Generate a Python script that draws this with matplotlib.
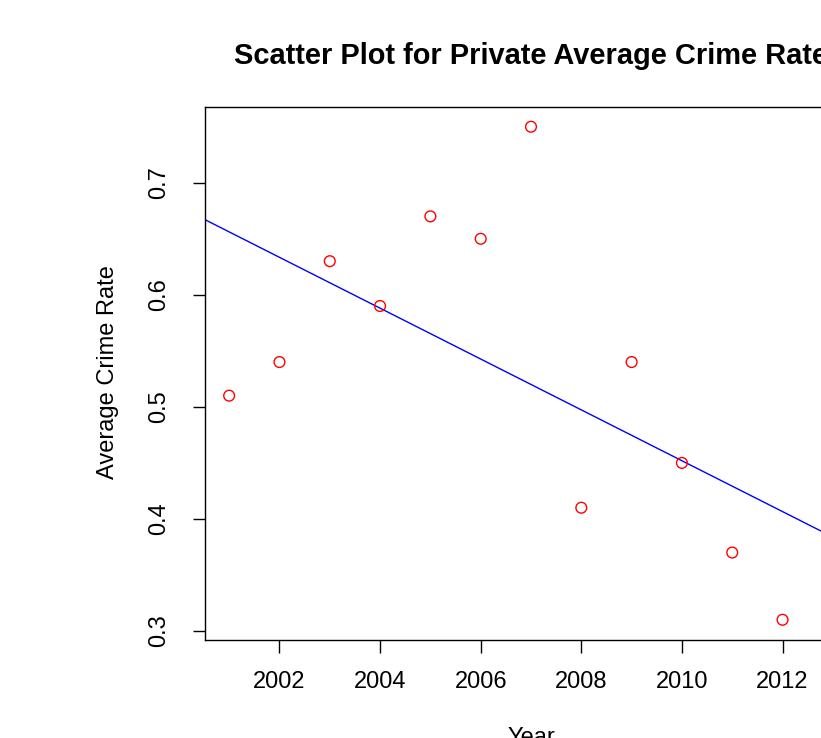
import numpy as np
import matplotlib
matplotlib.use("Agg")
import matplotlib.pyplot as plt

plt.rcParams['font.family'] = ['Liberation Sans', 'DejaVu Sans']

years = [2001, 2002, 2003, 2004, 2005, 2006, 2007, 2008, 2009, 2010, 2011, 2012, 2013]
crime_rate = [0.51, 0.54, 0.63, 0.59, 0.67, 0.65, 0.75, 0.41, 0.54, 0.45, 0.37, 0.31, 0.34]
x_ticks = [2002, 2004, 2006, 2008, 2010, 2012]
y_ticks = [0.3, 0.4, 0.5, 0.6, 0.7]

W, H, DPI = 821, 738, 100
fig = plt.figure(figsize=(W / DPI, H / DPI), dpi=DPI)

# plot region in pixels (extends past the right edge of the canvas)
left, right, top, bottom = 205, 857, 107, 639.5
ax = fig.add_axes([left / W, 1 - bottom / H, (right - left) / W, (bottom - top) / H])

x = np.array(years, dtype=float)
y = np.array(crime_rate)

# R-style 4% axis extension
def padded(v):
    lo, hi = v.min(), v.max()
    d = (hi - lo) * 0.04
    return lo - d, hi + d

ax.scatter(x, y, s=60, facecolors='none', edgecolors='red', linewidths=1.0, zorder=3)

slope, intercept = np.polyfit(x, y, 1)
xl = np.array(padded(x))
ax.plot(xl, intercept + slope * xl, color='blue', linewidth=1.0, zorder=2)

for s in ax.spines.values():
    s.set_linewidth(1.0)
    s.set_color('black')

ax.set_xticks(x_ticks)
ax.set_xticklabels([str(t) for t in x_ticks])
ax.set_yticks(y_ticks)
ax.set_yticklabels([f"{t:.1f}" for t in y_ticks], rotation=90, va='center')
ax.tick_params(axis='both', direction='out', length=9, width=1.0, labelsize=17, color='black')
ax.tick_params(axis='x', pad=14)
ax.tick_params(axis='y', pad=16)

ax.set_xlim(*padded(x))
ax.set_ylim(*padded(y))

fig.text(531 / W, 1 - 56 / H, "Scatter Plot for Private Average Crime Rate",
         ha='center', va='center', fontsize=20.9, fontweight='bold')
fig.text(531 / W, 1 - 727 / H, "Year", ha='center', va='top', fontsize=17)
fig.text(108 / W, 1 - 372 / H, "Average Crime Rate", ha='center', va='center',
         rotation=90, fontsize=17)

fig.savefig("out.png", dpi=DPI)
